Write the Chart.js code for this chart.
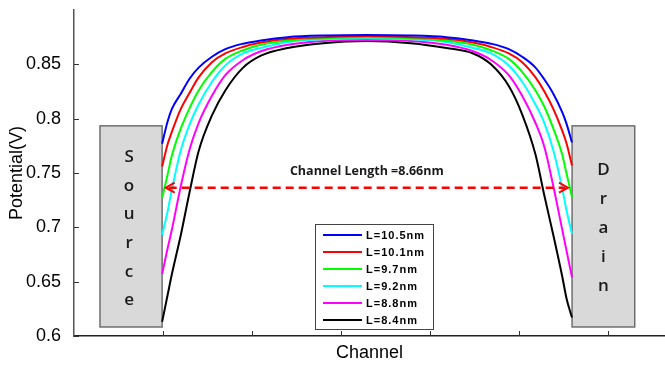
<!DOCTYPE html>
<html>
<head>
<meta charset="utf-8">
<script src="https://cdn.jsdelivr.net/npm/chart.js@4/dist/chart.umd.min.js"></script>
<style>
  html, body { margin: 0; padding: 0; background: #fff; }
  #wrap { width: 665px; height: 367px; }
</style>
</head>
<body>
<div id="wrap"><canvas id="potChart" width="665" height="367"></canvas></div>
<script>
'use strict';

// position along the channel (axis units, ticks every 1)
const channelPos = [0.99, 1.05, 1.1, 1.2, 1.3, 1.4, 1.55, 1.7, 1.9, 2.1, 2.4, 2.8, 3.29,
    3.785, 4.185, 4.485, 4.685, 4.885, 5.035, 5.185, 5.285, 5.385, 5.485, 5.535, 5.595];

const seriesNames = ['L=10.5nm', 'L=10.1nm', 'L=9.7nm', 'L=9.2nm', 'L=8.8nm', 'L=8.4nm'];
const seriesColors = ['#0000ff', '#ff0000', '#00ff00', '#00ffff', '#ff00ff', '#000000'];

const potL105 = [0.777, 0.797, 0.809, 0.823, 0.837, 0.847, 0.857, 0.864, 0.869, 0.872, 0.875, 0.8765, 0.877,
    0.8765, 0.875, 0.872, 0.869, 0.864, 0.857, 0.847, 0.836, 0.823, 0.806, 0.795, 0.778];
const potL101 = [0.756, 0.776, 0.788, 0.809, 0.824, 0.838, 0.852, 0.860, 0.866, 0.870, 0.8735, 0.875, 0.876,
    0.875, 0.8735, 0.870, 0.866, 0.860, 0.852, 0.838, 0.825, 0.809, 0.789, 0.777, 0.757];
const potL97 = [0.727, 0.748, 0.766, 0.791, 0.810, 0.826, 0.843, 0.855, 0.863, 0.868, 0.872, 0.874, 0.875,
    0.874, 0.872, 0.868, 0.863, 0.855, 0.843, 0.826, 0.811, 0.791, 0.767, 0.749, 0.728];
const potL92 = [0.693, 0.714, 0.735, 0.771, 0.795, 0.813, 0.834, 0.849, 0.860, 0.865, 0.8705, 0.873, 0.874,
    0.873, 0.8705, 0.865, 0.860, 0.849, 0.834, 0.813, 0.796, 0.771, 0.736, 0.715, 0.694];
const potL88 = [0.657, 0.680, 0.698, 0.738, 0.772, 0.796, 0.821, 0.840, 0.854, 0.862, 0.868, 0.8715, 0.8725,
    0.8715, 0.868, 0.862, 0.854, 0.840, 0.821, 0.796, 0.774, 0.738, 0.698, 0.678, 0.654];
const potL84 = [0.613, 0.637, 0.657, 0.693, 0.733, 0.770, 0.803, 0.826, 0.847, 0.858, 0.865, 0.8695, 0.8715,
    0.8695, 0.865, 0.860, 0.850, 0.830, 0.804, 0.767, 0.729, 0.693, 0.655, 0.634, 0.617];
const allSeries = [potL105, potL101, potL97, potL92, potL88, potL84];

const yTickValues = [0.6, 0.65, 0.7, 0.75, 0.8, 0.85];

// electrode blocks, in axis units: [xFrom, xTo, yFrom, yTo]
const sourceBlock = [0.292, 0.99, 0.6083, 0.7934];
const drainBlock = [5.596, 6.30, 0.6083, 0.7934];
const arrowSpan = [1.03, 5.55, 0.7365];
const lengthLabel = 'Channel Length =8.66nm';

const FONT = "'Liberation Sans', Arial, sans-serif";

const toXY = function (ys) {
    return ys.map(function (v, i) { return {x: channelPos[i], y: v}; });
};

const drawLetters = function (ctx, word, cx, yTop, step) {
    ctx.save();
    ctx.fillStyle = '#1a1a1a';
    ctx.font = "600 17px 'Open Sans', sans-serif";
    ctx.textAlign = 'center';
    ctx.textBaseline = 'middle';
    word.split('').forEach(function (ch, i) {
        ctx.fillText(ch, cx, yTop + i * step);
    });
    ctx.restore();
};

const extrasPlugin = {
    id: 'extras',
    beforeDatasetsDraw(chart) {
        const ctx = chart.ctx;
        const xs = chart.scales.x, ys = chart.scales.y;
        ctx.save();
        [sourceBlock, drainBlock].forEach(function (b) {
            const x0 = xs.getPixelForValue(b[0]), x1 = xs.getPixelForValue(b[1]);
            const y0 = ys.getPixelForValue(b[3]), y1 = ys.getPixelForValue(b[2]);
            ctx.fillStyle = '#d9d9d9';
            ctx.fillRect(x0, y0, x1 - x0, y1 - y0);
            ctx.strokeStyle = '#6f6f6f';
            ctx.lineWidth = 1.5;
            ctx.strokeRect(x0, y0, x1 - x0, y1 - y0);
        });
        ctx.restore();
        const sx = (xs.getPixelForValue(sourceBlock[0]) + xs.getPixelForValue(sourceBlock[1])) / 2;
        const dx = (xs.getPixelForValue(drainBlock[0]) + xs.getPixelForValue(drainBlock[1])) / 2;
        drawLetters(ctx, 'Source', sx - 2, 157, 28.7);
        drawLetters(ctx, 'Drain', dx, 170, 29);

        // inward tick marks
        ctx.save();
        ctx.strokeStyle = '#333';
        ctx.lineWidth = 1;
        const area = chart.chartArea;
        yTickValues.forEach(function (v) {
            const py = Math.round(ys.getPixelForValue(v)) + 0.5;
            ctx.beginPath();
            ctx.moveTo(area.left, py);
            ctx.lineTo(area.left + 5, py);
            ctx.stroke();
        });
        for (let t = 1; t <= 6; t++) {
            const px = Math.round(xs.getPixelForValue(t)) + 0.5;
            ctx.beginPath();
            ctx.moveTo(px, area.bottom);
            ctx.lineTo(px, area.bottom - 5);
            ctx.stroke();
        }
        ctx.restore();
    },
    afterDatasetsDraw(chart) {
        const ctx = chart.ctx;
        const xs = chart.scales.x, ys = chart.scales.y;
        const ax0 = xs.getPixelForValue(arrowSpan[0]);
        const ax1 = xs.getPixelForValue(arrowSpan[1]);
        const ay = ys.getPixelForValue(arrowSpan[2]);

        ctx.save();
        ctx.strokeStyle = '#ff0000';
        ctx.lineWidth = 2.5;
        ctx.setLineDash([8, 5]);
        ctx.beginPath();
        ctx.moveTo(ax0 + 3, ay);
        ctx.lineTo(ax1 - 3, ay);
        ctx.stroke();
        ctx.setLineDash([]);
        ctx.lineWidth = 2;
        ctx.beginPath();
        ctx.moveTo(ax0 + 9, ay - 5);
        ctx.lineTo(ax0, ay);
        ctx.lineTo(ax0 + 9, ay + 5);
        ctx.moveTo(ax1 - 9, ay - 5);
        ctx.lineTo(ax1, ay);
        ctx.lineTo(ax1 - 9, ay + 5);
        ctx.stroke();

        ctx.fillStyle = '#1a1a1a';
        ctx.font = "bold 12.5px 'Open Sans', sans-serif";
        ctx.textAlign = 'center';
        ctx.textBaseline = 'middle';
        ctx.fillText(lengthLabel, (ax0 + ax1) / 2, ay - 16);
        ctx.restore();

        // legend box
        const lx = 315, ly = 224, lw = 118, lh = 105;
        ctx.save();
        ctx.fillStyle = '#fff';
        ctx.fillRect(lx, ly, lw, lh);
        ctx.strokeStyle = '#444';
        ctx.lineWidth = 1;
        ctx.strokeRect(lx + 0.5, ly + 0.5, lw, lh);
        ctx.font = 'bold 11px ' + FONT;
        if ('letterSpacing' in ctx) ctx.letterSpacing = '1px';
        ctx.textBaseline = 'middle';
        ctx.textAlign = 'left';
        chart.data.datasets.forEach(function (ds, i) {
            const y = ly + 11 + i * 17;
            ctx.strokeStyle = ds.borderColor;
            ctx.lineWidth = 2;
            ctx.beginPath();
            ctx.moveTo(lx + 8, y);
            ctx.lineTo(lx + 47, y);
            ctx.stroke();
            ctx.fillStyle = '#000';
            ctx.fillText(ds.label, lx + 51, y + 0.5);
        });
        ctx.restore();
    }
};

const potChart = new Chart(document.getElementById('potChart').getContext('2d'), {
    type: 'line',
    data: {
        datasets: allSeries.map(function (ys, i) {
            return {
                label: seriesNames[i],
                data: toXY(ys),
                borderColor: seriesColors[i],
                backgroundColor: seriesColors[i],
                borderWidth: 2,
                pointRadius: 0,
                cubicInterpolationMode: 'monotone',
                fill: false
            };
        })
    },
    options: {
        responsive: false,
        animation: false,
        devicePixelRatio: 1,
        layout: { padding: { top: 10, right: 0, bottom: 0, left: 0 } },
        plugins: {
            legend: false,
            tooltip: { enabled: false }
        },
        scales: {
            x: {
                type: 'linear',
                min: 0,
                max: 6.64,
                grid: { display: false },
                border: { display: true, color: '#222', width: 1.5 },
                ticks: { display: false, stepSize: 1 },
                title: {
                    display: true,
                    text: 'Channel',
                    color: '#000',
                    font: { family: FONT, size: 18 },
                    padding: { top: 0, bottom: 3 }
                },
                afterFit: function (scale) {
                    scale.height = 31;
                    scale.paddingLeft = 0;
                    scale.paddingRight = 0;
                }
            },
            y: {
                min: 0.6,
                max: 0.9,
                grid: { display: false },
                border: { display: true, color: '#555', width: 1.5 },
                ticks: {
                    stepSize: 0.05,
                    padding: 5,
                    color: '#000',
                    font: { family: FONT, size: 18 },
                    callback: function (v) {
                        return v > 0.875 ? '' : String(Number(v.toFixed(2)));
                    }
                },
                title: {
                    display: true,
                    text: 'Potential(V)',
                    color: '#000',
                    font: { family: FONT, size: 18 },
                    padding: { top: 6, bottom: 0 }
                },
                afterFit: function (scale) {
                    scale.width = 74;
                    scale.paddingTop = 0;
                    scale.paddingBottom = 0;
                }
            }
        }
    },
    plugins: [extrasPlugin]
});
</script>
</body>
</html>
